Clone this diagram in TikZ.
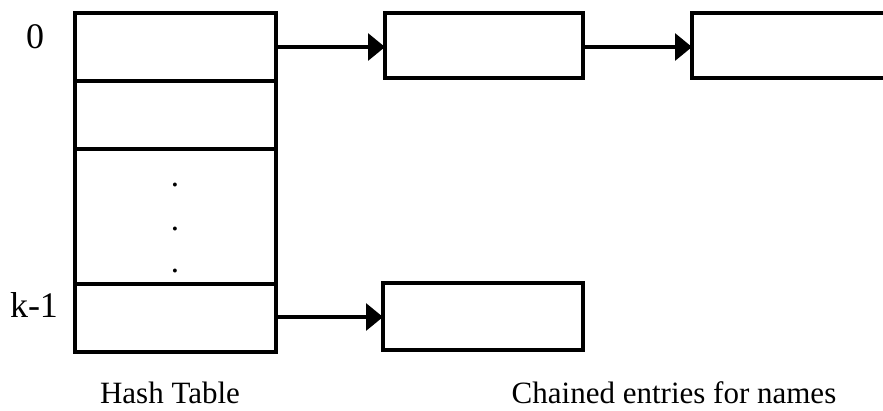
\documentclass[tikz,border=0pt]{standalone}
\usepackage{fontspec}
\setmainfont{Liberation Serif}
\usetikzlibrary{arrows.meta}
\begin{document}
\begin{tikzpicture}[x=1pt,y=-1pt,
  cell/.style={draw,line width=3.6pt,rectangle,inner sep=0pt,outer sep=0pt},
  link/.style={line width=3.2pt,-{Triangle[length=17pt,width=27pt]}},
  lbl/.style={font=\fontsize{36}{40}\selectfont,inner sep=0pt},
  captext/.style={font=\fontsize{31}{36}\selectfont,inner sep=0pt,anchor=base},
  dotmark/.style={font=\fontsize{33}{36}\selectfont,inner sep=0pt,anchor=base}]
\path[use as bounding box] (0,0) rectangle (883,410);
\clip (0,0) rectangle (883,410);
% hash table rows
\node[cell,minimum width=201pt,minimum height=68pt] (r0) at (175.5,47) {};
\node[cell,minimum width=201pt,minimum height=68pt] (r1) at (175.5,115) {};
\node[cell,minimum width=201pt,minimum height=135pt] (r2) at (175.5,216.5) {};
\node[cell,minimum width=201pt,minimum height=68pt] (r3) at (175.5,318) {};
% chained boxes
\node[cell,minimum width=198pt,minimum height=65pt] (c1) at (484,45.5) {};
\node[cell,minimum width=210pt,minimum height=65pt] (c2) at (797,45.5) {};
\node[cell,minimum width=200pt,minimum height=67pt] (c3) at (483,316.5) {};
% links
\draw[link] (r0.east |- 0,47) -- (c1.west |- 0,47);
\draw[link] (c1.east |- 0,47) -- (c2.west |- 0,47);
\draw[link] (r3.east |- 0,317) -- (c3.west |- 0,317);
% dots
\node[dotmark] (d1) at (175,186) {.};
\node[dotmark] (d2) at (175,230) {.};
\node[dotmark] (d3) at (175,272) {.};
% labels
\node[lbl,anchor=base] (l0) at (35,48) {0};
\node[lbl,anchor=base] (lk) at (34,317) {k-1};
\node[captext] (t1) at (170,403) {Hash Table};
\node[captext] (t2) at (674,403) {Chained entries for names};
\end{tikzpicture}
\end{document}
